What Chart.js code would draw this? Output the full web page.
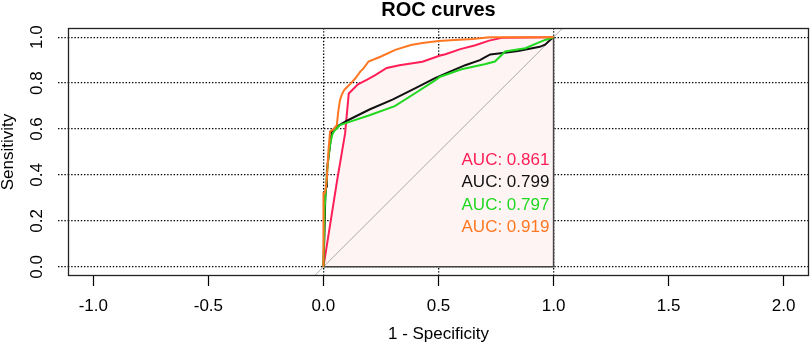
<!DOCTYPE html>
<html>
<head>
<meta charset="utf-8">
<script src="https://cdn.jsdelivr.net/npm/chart.js@4/dist/chart.umd.min.js"></script>
<style>
html,body{margin:0;padding:0;background:#ffffff;}
#wrap{width:810px;height:346px;}
</style>
</head>
<body>
<div id="wrap"><canvas id="c" width="810" height="346"></canvas></div>
<script>
const FONT = "'Liberation Sans', Arial, Helvetica, sans-serif";

// Tick labels
const xTicks = [-1.0, -0.5, 0.0, 0.5, 1.0, 1.5, 2.0];
const yTicks = [0.0, 0.2, 0.4, 0.6, 0.8, 1.0];
const xGridTicks = [0.0, 0.5, 1.0];
const xRange = [-1.11, 2.11];
const yRange = [-0.04, 1.04];

// ROC curve 1 (red, AUC 0.861)
const redFPR = [0, 0.06, 0.094, 0.11, 0.15, 0.19, 0.225, 0.275, 0.33, 0.43, 0.507, 0.53, 0.595, 0.66, 0.72, 0.78, 1.0];
const redTPR = [0, 0.38, 0.58, 0.755, 0.795, 0.815, 0.835, 0.866, 0.878, 0.893, 0.92, 0.926, 0.948, 0.965, 0.985, 0.998, 1.0];

// ROC curve 2 (black, AUC 0.799)
const blackFPR = [0, 0.004, 0.008, 0.012, 0.015, 0.025, 0.03, 0.036, 0.05, 0.1, 0.2, 0.3, 0.4, 0.485, 0.55, 0.616, 0.68, 0.703, 0.725, 0.77, 0.846, 0.94, 0.963, 0.985, 1.0];
const blackTPR = [0, 0.13, 0.3, 0.35, 0.42, 0.5, 0.54, 0.59, 0.605, 0.635, 0.685, 0.728, 0.778, 0.822, 0.85, 0.878, 0.9, 0.913, 0.925, 0.93, 0.94, 0.958, 0.967, 0.988, 1.0];

// ROC curve 3 (green, AUC 0.797)
const greenFPR = [0, 0.005, 0.01, 0.015, 0.022, 0.03, 0.04, 0.05, 0.072, 0.1, 0.2, 0.31, 0.4, 0.485, 0.507, 0.6, 0.7, 0.745, 0.79, 0.877, 0.963, 1.0];
const greenTPR = [0, 0.25, 0.33, 0.4, 0.48, 0.54, 0.58, 0.595, 0.617, 0.627, 0.66, 0.70, 0.757, 0.812, 0.828, 0.86, 0.882, 0.894, 0.938, 0.952, 0.988, 1.0];

// ROC curve 4 (orange, AUC 0.919)
const orangeFPR = [0, 0, 0.005, 0.01, 0.015, 0.022, 0.029, 0.045, 0.058, 0.065, 0.072, 0.08, 0.09, 0.1, 0.12, 0.138, 0.16, 0.175, 0.196, 0.25, 0.312, 0.38, 0.43, 0.5, 0.57, 0.65, 0.72, 1.0];
const orangeTPR = [0, 0.32, 0.32, 0.34, 0.39, 0.51, 0.59, 0.60, 0.617, 0.68, 0.726, 0.75, 0.77, 0.78, 0.80, 0.82, 0.85, 0.865, 0.894, 0.916, 0.945, 0.966, 0.975, 0.983, 0.988, 0.992, 1.0, 1.0];

const aucLabels = ['AUC: 0.861', 'AUC: 0.799', 'AUC: 0.797', 'AUC: 0.919'];
const aucTextX = 0.6;
const aucTextY = [0.465, 0.37, 0.27, 0.17];

const COLORS = { red: '#FF1E56', black: '#111111', green: '#1FD81F', orange: '#FF7722' };
const aucColors = [COLORS.red, COLORS.black, COLORS.green, COLORS.orange];
const PINK = '#FFF4F4';
const GRID_DASH = [1.4, 1.8];

function pts(xs, ys) { return xs.map((x, i) => ({ x: x, y: ys[i] })); }

// polygon edge (right and bottom) of the AUC polygon under the red curve
const redPts = pts(redFPR, redTPR);
const edgePts = [
  { x: redFPR[redFPR.length - 1], y: redTPR[redTPR.length - 1] },
  { x: redFPR[redFPR.length - 1], y: 0 },
  { x: redFPR[0], y: 0 }
];
const identityPts = [{ x: xRange[0], y: xRange[0] }, { x: xRange[1], y: xRange[1] }];

const overlayPlugin = {
  id: 'overlay',
  afterDatasetsDraw(chart) {
    const { ctx, chartArea } = chart;
    const xs = chart.scales.x, ys = chart.scales.y;
    ctx.save();
    // plot box
    ctx.strokeStyle = '#222222';
    ctx.lineWidth = 1.3;
    ctx.setLineDash([]);
    ctx.strokeRect(Math.round(chartArea.left) + 0.5, Math.round(chartArea.top) + 0.5,
      Math.round(chartArea.right - chartArea.left) - 1, Math.round(chartArea.bottom - chartArea.top) - 1);
    // AUC texts
    ctx.font = '17px ' + FONT;
    ctx.textAlign = 'left';
    ctx.textBaseline = 'middle';
    aucLabels.forEach((t, i) => {
      ctx.fillStyle = aucColors[i];
      ctx.fillText(t, xs.getPixelForValue(aucTextX), ys.getPixelForValue(aucTextY[i]));
    });
    ctx.restore();
  }
};

const lineBase = { pointRadius: 0, pointHoverRadius: 0, tension: 0, fill: false, borderWidth: 2 };

new Chart(document.getElementById('c'), {
  type: 'line',
  data: {
    datasets: [
      Object.assign({}, lineBase, { label: 'red', data: redPts, borderColor: COLORS.red,
        fill: { target: 'origin', above: PINK, below: PINK }, backgroundColor: PINK, order: 10 }),
      Object.assign({}, lineBase, { label: 'edge', data: edgePts, borderColor: '#444444', borderWidth: 1.5, order: 9 }),
      Object.assign({}, lineBase, { label: 'identity', data: identityPts, borderColor: '#AAAAAA', borderWidth: 1, order: 8, clip: 0 }),
      Object.assign({}, lineBase, { label: 'black', data: pts(blackFPR, blackTPR), borderColor: COLORS.black, order: 3 }),
      Object.assign({}, lineBase, { label: 'green', data: pts(greenFPR, greenTPR), borderColor: COLORS.green, order: 2 }),
      Object.assign({}, lineBase, { label: 'orange', data: pts(orangeFPR, orangeTPR), borderColor: COLORS.orange, order: 1 })
    ]
  },
  options: {
    responsive: false,
    animation: false,
    devicePixelRatio: 1,
    events: [],
    layout: { padding: { left: 0, right: 1, top: 0, bottom: 0 } },
    plugins: {
      legend: { display: false },
      tooltip: { enabled: false },
      title: {
        display: true, text: 'ROC curves', fullSize: false, color: '#000000',
        font: { family: FONT, size: 20, weight: 'bold', lineHeight: 1 },
        padding: { top: 0.5, bottom: 7.5 }
      }
    },
    scales: {
      x: {
        type: 'linear', position: 'bottom', min: xRange[0], max: xRange[1],
        afterBuildTicks: s => { s.ticks = xTicks.map(v => ({ value: v })); },
        ticks: { callback: v => Number(v).toFixed(1), font: { family: FONT, size: 17 }, color: '#000000',
          padding: 10, minRotation: 0, maxRotation: 0, autoSkip: false },
        grid: { display: true, drawOnChartArea: false, drawTicks: true, tickLength: 10, tickColor: '#000000', tickWidth: 1.2 },
        border: { display: false },
        title: { display: true, text: '1 - Specificity', color: '#000000',
          font: { family: FONT, size: 17, lineHeight: 1 }, padding: { top: 0, bottom: 3 } },
        afterFit: s => { s.height = 70; }
      },
      xg: {
        type: 'linear', axis: 'x', position: 'bottom', min: xRange[0], max: xRange[1],
        afterBuildTicks: s => { s.ticks = xGridTicks.map(v => ({ value: v })); },
        ticks: { display: false },
        grid: { display: true, drawOnChartArea: true, drawTicks: false, color: '#000000', lineWidth: 1.3 },
        border: { display: false, dash: GRID_DASH },
        afterFit: s => { s.height = 0; }
      },
      y: {
        type: 'linear', position: 'left', min: yRange[0], max: yRange[1],
        afterBuildTicks: s => { s.ticks = yTicks.map(v => ({ value: v })); },
        ticks: { callback: v => Number(v).toFixed(1), font: { family: FONT, size: 17 }, color: '#000000',
          padding: 8.7, minRotation: 90, maxRotation: 90, crossAlign: 'center', autoSkip: false },
        grid: { display: true, drawOnChartArea: true, drawTicks: true, tickLength: 10, color: '#000000',
          lineWidth: 1.3, tickColor: '#000000', tickWidth: 1.3, tickBorderDash: GRID_DASH },
        border: { display: false, dash: GRID_DASH },
        title: { display: true, text: 'Sensitivity', color: '#000000',
          font: { family: FONT, size: 17, lineHeight: 1 }, padding: { top: 0, bottom: 0 } },
        afterFit: s => { s.width = 68; }
      }
    }
  },
  plugins: [overlayPlugin]
});
</script>
</body>
</html>
